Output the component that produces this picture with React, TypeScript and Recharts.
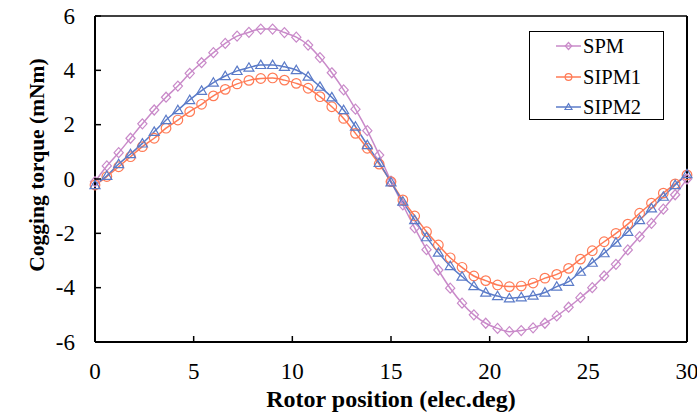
import React from "react";
import { LineChart, Line, XAxis, YAxis, Label, ReferenceLine, Legend } from "recharts";

// rotor position in elec. degrees (one marker every 0.6 deg)
const positions = [
  0, 0.6, 1.2, 1.8, 2.4, 3, 3.6, 4.2, 4.8, 5.4, 6, 6.6, 7.2, 7.8, 8.4, 9, 9.6, 10.2, 10.8, 11.4,
  12, 12.6, 13.2, 13.8, 14.4, 15, 15.6, 16.2, 16.8, 17.4, 18, 18.6, 19.2, 19.8, 20.4, 21, 21.6,
  22.2, 22.8, 23.4, 24, 24.6, 25.2, 25.8, 26.4, 27, 27.6, 28.2, 28.8, 29.4, 30,
];

// cogging torque (mNm)
const spm = [
  -0.1, 0.48, 0.97, 1.5, 2.03, 2.54, 3.01, 3.42, 3.89, 4.28, 4.65, 4.99, 5.26, 5.4, 5.52, 5.52, 5.39,
  5.22, 4.93, 4.47, 3.91, 3.28, 2.57, 1.78, 0.88, -0.08, -0.95, -1.8, -2.6, -3.35, -4.02, -4.57, -5.0,
  -5.31, -5.5, -5.62, -5.58, -5.48, -5.31, -5.04, -4.72, -4.37, -4.0, -3.57, -3.14, -2.61, -2.12,
  -1.63, -1.11, -0.58, 0.0,
];
const sipm1 = [
  -0.22, 0.09, 0.45, 0.82, 1.19, 1.5, 1.87, 2.17, 2.48, 2.75, 3.06, 3.3, 3.5, 3.63, 3.7, 3.72, 3.64,
  3.52, 3.34, 3.03, 2.66, 2.23, 1.68, 1.13, 0.55, -0.1, -0.77, -1.36, -1.94, -2.43, -2.9, -3.25,
  -3.57, -3.74, -3.9, -3.96, -3.94, -3.83, -3.65, -3.51, -3.29, -2.95, -2.64, -2.31, -2.0, -1.66,
  -1.26, -0.89, -0.52, -0.18, 0.15,
];
const sipm2 = [
  -0.22, 0.12, 0.55, 0.92, 1.31, 1.74, 2.17, 2.54, 2.91, 3.25, 3.55, 3.79, 3.98, 4.1, 4.2, 4.2, 4.13,
  4.01, 3.77, 3.4, 3.01, 2.54, 1.93, 1.25, 0.6, -0.12, -0.83, -1.51, -2.14, -2.71, -3.2, -3.59,
  -3.94, -4.18, -4.31, -4.39, -4.35, -4.29, -4.18, -3.96, -3.78, -3.41, -3.08, -2.73, -2.34, -1.94,
  -1.51, -1.08, -0.65, -0.22, 0.18,
];

const xTicks = [0, 5, 10, 15, 20, 25, 30];
const yTicks = [-6, -4, -2, 0, 2, 4, 6];

const series = [
  { key: "SPM", color: "#C98AC9", marker: "diamond" },
  { key: "SIPM1", color: "#FF7A55", marker: "circle" },
  { key: "SIPM2", color: "#5B7BC8", marker: "triangle" },
];

const data = positions.map((x, i) => ({ x, SPM: spm[i], SIPM1: sipm1[i], SIPM2: sipm2[i] }));

const FONT = "Liberation Serif, DejaVu Serif, serif";

function Marker({ kind, cx, cy, color, s = 1 }: { kind: string; cx: number; cy: number; color: string; s?: number }) {
  if (kind === "diamond") {
    return (
      <path
        d={`M${cx},${cy - 5 * s}L${cx + 4.6 * s},${cy}L${cx},${cy + 5 * s}L${cx - 4.6 * s},${cy}Z`}
        fill="none"
        stroke={color}
        strokeWidth={1.2}
      />
    );
  }
  if (kind === "circle") {
    return <circle cx={cx} cy={cy} r={4.8 * s} fill="none" stroke={color} strokeWidth={1.2} />;
  }
  return (
    <path
      d={`M${cx},${cy - 4.8 * s}L${cx + 5 * s},${cy + 3.6 * s}L${cx - 5 * s},${cy + 3.6 * s}Z`}
      fill="none"
      stroke={color}
      strokeWidth={1.2}
    />
  );
}

const XTick = ({ x, y, payload }: any) => (
  <g>
    <line x1={x} y1={y} x2={x} y2={y - 6} stroke="#000" strokeWidth={1.5} />
    <text x={x} y={y + 37} textAnchor="middle" style={{ fontFamily: FONT, fontSize: 23 }} fill="#000">
      {payload.value}
    </text>
  </g>
);

const YTick = ({ x, y, payload }: any) => (
  <g>
    <line x1={x} y1={y} x2={x + 6} y2={y} stroke="#000" strokeWidth={1.5} />
    <text x={x - 20} y={y} dy="0.34em" textAnchor="end" style={{ fontFamily: FONT, fontSize: 23 }} fill="#000">
      {payload.value}
    </text>
  </g>
);

const renderLegend = () => (
  <div
    style={{
      width: 135,
      height: 89,
      border: "1.5px solid #000",
      boxSizing: "border-box",
      background: "#fff",
      position: "relative",
    }}
  >
    {series.map((s, i) => (
      <div
        key={s.key}
        style={{ position: "absolute", left: 24, top: 2 + i * 30.5, height: 24, display: "flex", alignItems: "center" }}
      >
        <svg width={29} height={24}>
          <line x1={2} y1={12} x2={27} y2={12} stroke={s.color} strokeWidth={1.5} />
          <Marker kind={s.marker} cx={14.5} cy={12} color={s.color} s={0.7} />
        </svg>
        <span style={{ fontFamily: FONT, fontSize: 20.5, color: "#000", lineHeight: "24px" }}>{s.key}</span>
      </div>
    ))}
  </div>
);

export default function App() {
  return (
    <div style={{ position: "absolute", left: 0, top: 0, width: 697, height: 419, background: "#fff", fontFamily: FONT }}>
      <LineChart width={697} height={419} data={data} margin={{ top: 16, right: 10, left: 0, bottom: 0 }}>
        <XAxis
          dataKey="x"
          type="number"
          domain={[0, 30]}
          ticks={xTicks}
          interval={0}
          height={77}
          tickSize={0}
          tickMargin={0}
          tick={<XTick />}
          axisLine={{ stroke: "#000", strokeWidth: 2 }}
        >
          <Label
            content={() => (
              <text
                x={391}
                y={407}
                textAnchor="middle"
                style={{ fontFamily: FONT, fontSize: 24, fontWeight: "bold" }}
                fill="#000"
              >
                Rotor position (elec.deg)
              </text>
            )}
          />
        </XAxis>
        <YAxis
          type="number"
          domain={[-6, 6]}
          ticks={yTicks}
          interval={0}
          width={95}
          tickSize={0}
          tickMargin={0}
          tick={<YTick />}
          axisLine={{ stroke: "#000", strokeWidth: 2 }}
        >
          <Label
            content={() => (
              <text
                transform="translate(44,165) rotate(-90)"
                textAnchor="middle"
                style={{ fontFamily: FONT, fontSize: 21.5, fontWeight: "bold" }}
                fill="#000"
              >
                Cogging torque (mNm)
              </text>
            )}
          />
        </YAxis>
        <ReferenceLine y={6} stroke="#000" strokeWidth={1.5} />
        <ReferenceLine x={30} stroke="#000" strokeWidth={2} />
        {series.map((s) => (
          <Line
            key={s.key}
            dataKey={s.key}
            type="monotone"
            stroke={s.color}
            strokeWidth={1.5}
            isAnimationActive={false}
            dot={(p: any) => (
              <g key={`${s.key}-${p.index}`}>
                <Marker kind={s.marker} cx={p.cx} cy={p.cy} color={s.color} />
              </g>
            )}
            activeDot={false}
          />
        ))}
        <Legend
          layout="vertical"
          align="center"
          verticalAlign="middle"
          content={renderLegend}
          wrapperStyle={{ left: 529, top: 31, width: 135, height: 89 }}
        />
      </LineChart>
    </div>
  );
}
